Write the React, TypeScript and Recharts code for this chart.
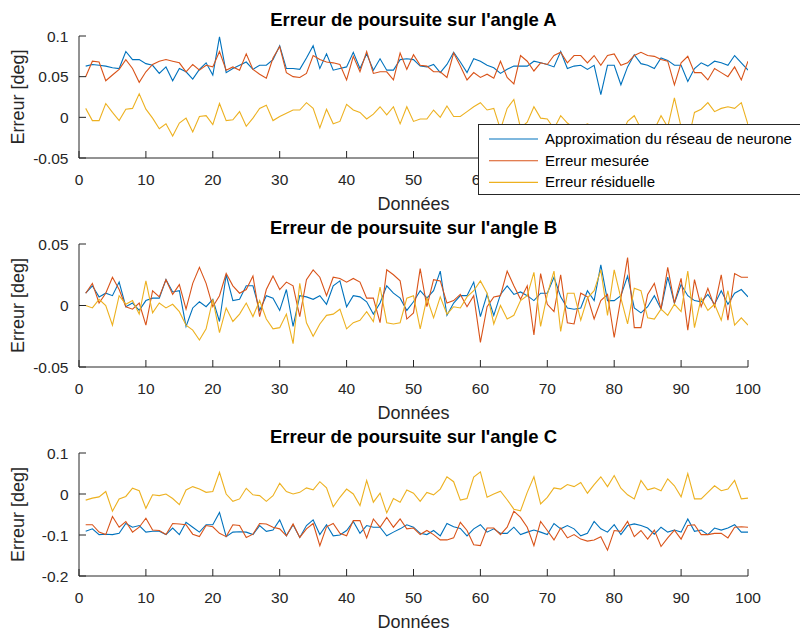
import React from "react";
import { LineChart, Line, XAxis, YAxis } from "recharts";

// sample index (Données)
const X_VALUES = Array.from({ length: 100 }, (_, i) => i + 1);
const X_TICKS = [0, 10, 20, 30, 40, 50, 60, 70, 80, 90, 100];

const SERIES_NAMES = [
  "Approximation du réseau de neurone",
  "Erreur mesurée",
  "Erreur résiduelle",
];

// angle A
const A_APPROX = [
  0.063, 0.065, 0.064, 0.063, 0.061, 0.06, 0.081, 0.071, 0.071, 0.066,
  0.064, 0.054, 0.062, 0.045, 0.06, 0.056, 0.047, 0.059, 0.067, 0.052,
  0.099, 0.055, 0.06, 0.064, 0.068, 0.059, 0.064, 0.064, 0.071, 0.088,
  0.06, 0.06, 0.059, 0.073, 0.088, 0.06, 0.078, 0.058, 0.06, 0.062,
  0.08, 0.06, 0.078, 0.058, 0.072, 0.058, 0.058, 0.071, 0.072, 0.071,
  0.063, 0.062, 0.065, 0.055, 0.065, 0.08, 0.068, 0.055, 0.072, 0.069,
  0.064, 0.061, 0.054, 0.059, 0.063, 0.063, 0.063, 0.069, 0.067, 0.065,
  0.062, 0.081, 0.06, 0.063, 0.064, 0.059, 0.064, 0.028, 0.064, 0.064,
  0.04, 0.062, 0.077, 0.066, 0.064, 0.06, 0.073, 0.07, 0.064, 0.064,
  0.044, 0.06, 0.067, 0.063, 0.069, 0.067, 0.064, 0.076, 0.067, 0.058,
];
const A_MEAS = [
  0.05, 0.069, 0.068, 0.045, 0.052, 0.059, 0.071, 0.06, 0.043, 0.056,
  0.065, 0.069, 0.071, 0.069, 0.067, 0.056, 0.065, 0.058, 0.064, 0.062,
  0.081, 0.058, 0.062, 0.058, 0.078, 0.059, 0.053, 0.048, 0.073, 0.087,
  0.055, 0.05, 0.049, 0.054, 0.076, 0.071, 0.068, 0.067, 0.065, 0.046,
  0.075, 0.056, 0.081, 0.054, 0.056, 0.056, 0.046, 0.079, 0.059, 0.077,
  0.064, 0.063, 0.056, 0.056, 0.049, 0.079, 0.063, 0.046, 0.055, 0.049,
  0.053, 0.048, 0.069, 0.049, 0.041, 0.076, 0.069, 0.057, 0.067, 0.065,
  0.076, 0.08, 0.067, 0.076, 0.076, 0.067, 0.076, 0.064, 0.076, 0.078,
  0.064, 0.067, 0.076, 0.08, 0.076, 0.075, 0.071, 0.069, 0.04, 0.067,
  0.075, 0.055, 0.055, 0.046, 0.06, 0.055, 0.05, 0.062, 0.046, 0.069,
];
const A_RES = [
  0.011, -0.004, -0.004, 0.017, 0.006, -0.004, 0.01, 0.011, 0.029, 0.01,
  -0.001, -0.014, -0.008, -0.023, -0.007, -0.001, -0.018, 0.001, 0.002, -0.009,
  0.017, -0.004, -0.003, 0.007, -0.011, -0.001, 0.011, 0.015, -0.004, 0.001,
  0.005, 0.009, 0.009, 0.018, 0.011, -0.013, 0.01, -0.008, -0.005, 0.016,
  0.009, 0.006, -0.002, 0.004, 0.013, 0.003, 0.013, -0.008, 0.013, -0.005,
  -0.002, -0.002, 0.009, 0.0, 0.014, 0.001, 0.001, 0.007, 0.013, 0.018,
  0.009, 0.011, -0.015, 0.011, 0.022, -0.013, -0.006, 0.013, -0.001, -0.002,
  -0.014, 0.002, -0.007, -0.013, -0.012, -0.008, -0.012, -0.036, -0.012, -0.014,
  -0.024, -0.005, 0.002, -0.014, -0.012, -0.015, 0.002, -0.012, 0.024, -0.012,
  -0.031, 0.006, 0.01, 0.018, 0.007, 0.011, 0.013, 0.011, 0.018, -0.009,
];

// angle B
const B_APPROX = [
  0.01, 0.016, 0.007, 0.01, 0.008, 0.019, -0.001, 0.002, -0.004, 0.004,
  0.006, 0.006, 0.021, 0.011, 0.012, -0.017, -0.002, 0.003, -0.001, 0.005,
  -0.013, 0.025, 0.004, 0.005, 0.016, 0.016, -0.004, 0.008, 0.006, -0.004,
  0.013, -0.017, 0.008, 0.007, 0.005, 0.008, 0.001, 0.016, 0.02, -0.001,
  0.008, 0.007, 0.003, -0.007, 0.002, 0.016, 0.01, 0.006, -0.004, 0.003,
  0.012, 0.006, 0.012, 0.028, -0.008, 0.002, 0.008, 0.008, 0.019, -0.009,
  0.009, -0.008, 0.009, 0.016, 0.009, 0.011, 0.008, 0.004, 0.01, 0.01,
  0.023, 0.007, -0.002, -0.003, -0.002, 0.012, 0.004, 0.033, 0.004, 0.004,
  0.008, 0.024, -0.002, -0.006, -0.001, 0.008, -0.003, 0.023, 0.002, 0.017,
  0.008, 0.004, 0.003, 0.009, 0.001, 0.012, 0.001, 0.01, 0.013, 0.007,
];
const B_MEAS = [
  0.01, 0.018, 0.002, 0.01, 0.023, 0.013, -0.001, -0.003, 0.002, -0.016,
  0.012, 0.007, 0.021, 0.009, 0.017, -0.003, 0.018, 0.031, 0.018, -0.001,
  0.008, 0.026, 0.016, 0.01, 0.013, 0.024, -0.009, 0.013, 0.024, 0.013,
  0.019, 0.016, -0.009, 0.021, 0.029, 0.023, 0.008, 0.023, 0.022, 0.019,
  0.022, 0.019, 0.006, 0.006, -0.014, 0.029, 0.025, 0.02, -0.011, -0.006,
  0.03, -0.001, 0.021, 0.02, 0.002, 0.004, 0.009, -0.001, 0.008, -0.03,
  -0.001, 0.007, 0.008, 0.028, 0.016, 0.005, 0.016, -0.024, 0.026, 0.001,
  -0.005, 0.025, -0.014, -0.015, 0.01, 0.007, -0.011, 0.004, 0.009, -0.026,
  0.006, 0.039, -0.018, -0.018, 0.009, 0.018, -0.003, 0.031, 0.002, 0.022,
  -0.02, 0.021, -0.001, 0.014, -0.001, 0.025, -0.012, 0.026, 0.023, 0.023,
];
const B_RES = [
  0.0, -0.002, 0.005, 0.0, -0.016, 0.008, 0.001, 0.004, -0.007, 0.02,
  -0.006, 0.002, -0.002, 0.001, -0.005, -0.016, -0.02, -0.028, -0.019, 0.005,
  -0.022, -0.002, -0.013, -0.007, 0.002, -0.009, 0.004, -0.011, -0.019, -0.018,
  -0.007, -0.031, 0.018, -0.014, -0.025, -0.015, -0.008, -0.007, -0.003, -0.019,
  -0.014, -0.012, -0.005, -0.013, 0.015, -0.014, -0.015, -0.014, 0.006, 0.008,
  -0.019, 0.006, -0.01, 0.007, -0.007, -0.001, -0.002, 0.007, 0.012, 0.02,
  0.01, -0.015, 0.0, -0.011, -0.008, 0.004, 0.008, 0.027, -0.017, 0.009,
  0.028, -0.021, 0.01, 0.01, -0.012, 0.006, 0.012, 0.029, -0.008, 0.029,
  0.006, -0.015, 0.014, 0.012, -0.01, -0.011, -0.003, -0.008, 0.001, -0.005,
  0.028, -0.018, 0.006, -0.004, 0.001, -0.012, 0.012, -0.016, -0.01, -0.016,
];

// angle C
const C_APPROX = [
  -0.091, -0.085, -0.099, -0.098, -0.099, -0.096, -0.072, -0.081, -0.077, -0.093,
  -0.091, -0.091, -0.099, -0.083, -0.099, -0.069, -0.081, -0.093, -0.075, -0.075,
  -0.045, -0.104, -0.093, -0.092, -0.093, -0.099, -0.077, -0.091, -0.088, -0.063,
  -0.102, -0.075, -0.106, -0.077, -0.063, -0.099, -0.075, -0.102, -0.1, -0.089,
  -0.067, -0.096, -0.077, -0.081, -0.081, -0.102, -0.093, -0.085, -0.075, -0.081,
  -0.096, -0.099, -0.089, -0.102, -0.072, -0.08, -0.084, -0.102, -0.085, -0.075,
  -0.093, -0.085, -0.096, -0.096, -0.081, -0.099, -0.093, -0.088, -0.093, -0.099,
  -0.072, -0.085, -0.077, -0.085, -0.102, -0.096, -0.067, -0.085, -0.093, -0.075,
  -0.099, -0.077, -0.073, -0.077, -0.083, -0.098, -0.081, -0.093, -0.088, -0.093,
  -0.061, -0.091, -0.088, -0.099, -0.083, -0.088, -0.083, -0.075, -0.093, -0.093,
];
const C_MEAS = [
  -0.075, -0.075, -0.093, -0.099, -0.055, -0.081, -0.067, -0.093, -0.081, -0.059,
  -0.088, -0.089, -0.099, -0.072, -0.073, -0.075, -0.098, -0.104, -0.077, -0.08,
  -0.096, -0.104, -0.075, -0.077, -0.106, -0.098, -0.072, -0.073, -0.081, -0.085,
  -0.102, -0.073, -0.106, -0.085, -0.072, -0.126, -0.08, -0.072, -0.096, -0.102,
  -0.065, -0.065, -0.107, -0.061, -0.081, -0.057, -0.081, -0.061, -0.085, -0.083,
  -0.099, -0.089, -0.099, -0.112, -0.112, -0.107, -0.069, -0.089, -0.124, -0.126,
  -0.083, -0.083, -0.099, -0.081, -0.042, -0.057, -0.081, -0.126, -0.067, -0.089,
  -0.112, -0.083, -0.107, -0.099, -0.11, -0.115, -0.112, -0.104, -0.137, -0.089,
  -0.091, -0.067, -0.104, -0.089, -0.11, -0.088, -0.128, -0.107, -0.088, -0.11,
  -0.077, -0.075, -0.099, -0.099, -0.096, -0.096, -0.107, -0.081, -0.08, -0.081,
];
const C_RES = [
  -0.015, -0.01, -0.007, 0.006, -0.042, -0.012, -0.006, 0.014, 0.008, -0.035,
  -0.002, -0.004, 0.0, -0.011, -0.026, 0.01, 0.018, 0.012, 0.004, 0.006,
  0.053, 0.0, -0.018, -0.012, 0.014, -0.002, -0.004, -0.018, -0.004, 0.026,
  0.006, 0.0, 0.004, 0.015, 0.01, 0.03, 0.015, -0.031, -0.008, 0.012,
  0.0, -0.028, 0.033, -0.02, 0.002, -0.046, -0.011, -0.02, 0.01, 0.002,
  -0.018, 0.004, -0.002, 0.012, 0.042, 0.03, -0.015, -0.011, 0.041, 0.054,
  -0.008, 0.0, 0.007, -0.014, -0.037, -0.041, 0.004, 0.042, -0.024, -0.008,
  0.015, 0.012, 0.023, 0.018, 0.028, 0.002, 0.023, 0.042, 0.018, 0.045,
  0.014, -0.002, -0.012, 0.033, 0.01, 0.015, 0.008, 0.037, 0.02, -0.007,
  0.05, -0.012, -0.012, 0.004, 0.02, 0.008, 0.012, 0.033, -0.012, -0.01,
];

const FONT = '"Liberation Sans", Arial, Helvetica, sans-serif';
const AXIS = "#262626";
const COLORS = ["#0072BD", "#D95319", "#EDB120"];

const PLOT_LEFT = 79;
const PLOT_RIGHT = 748;
const PLOT_CX = (PLOT_LEFT + PLOT_RIGHT) / 2;

type PanelProps = {
  top: number;
  height: number;
  marginTop: number;
  approx: number[];
  meas: number[];
  res: number[];
  domain: [number, number];
  yTicks: number[];
  coveredTicks?: number[];
};

function Panel({ top, height, marginTop, approx, meas, res, domain, yTicks, coveredTicks = [] }: PanelProps) {
  const data = X_VALUES.map((x, i) => ({ x, approx: approx[i], meas: meas[i], res: res[i] }));
  const tickStyle = { fill: AXIS, fontSize: 15.5, fontFamily: FONT };

  // x tick labels that sit under the legend box are not drawn
  const xTick = (props: any) => {
    const { x, y, payload } = props;
    if (coveredTicks.includes(payload.value)) return <g />;
    return (
      <text x={x} y={y} dy="0.71em" textAnchor="middle" fill={AXIS} fontSize={15.5} fontFamily={FONT}>
        {payload.value}
      </text>
    );
  };

  return (
    <div style={{ position: "absolute", left: 0, top }}>
      <LineChart
        width={800}
        height={height}
        data={data}
        margin={{ top: marginTop, right: 800 - PLOT_RIGHT, bottom: 22, left: 0 }}
      >
        <XAxis
          xAxisId="b"
          dataKey="x"
          type="number"
          domain={[0, 100]}
          ticks={X_TICKS}
          interval={0}
          height={30}
          tickSize={-7}
          tickMargin={23}
          stroke={AXIS}
          tick={xTick}
          allowDataOverflow
        />
        <XAxis
          xAxisId="t"
          orientation="top"
          dataKey="x"
          type="number"
          domain={[0, 100]}
          ticks={X_TICKS}
          interval={0}
          height={0}
          tickSize={-7}
          stroke={AXIS}
          tick={false}
          allowDataOverflow
        />
        <YAxis
          yAxisId="l"
          type="number"
          domain={domain}
          ticks={yTicks}
          interval={0}
          width={PLOT_LEFT}
          tickSize={-7}
          tickMargin={17.5}
          stroke={AXIS}
          tick={tickStyle}
          allowDataOverflow
        />
        <YAxis
          yAxisId="r"
          orientation="right"
          type="number"
          domain={domain}
          ticks={yTicks}
          interval={0}
          width={0}
          tickSize={-7}
          stroke={AXIS}
          tick={false}
          allowDataOverflow
        />
        <Line xAxisId="b" yAxisId="l" type="linear" dataKey="approx" stroke={COLORS[0]} strokeWidth={1.1} dot={false} isAnimationActive={false} />
        <Line xAxisId="b" yAxisId="l" type="linear" dataKey="meas" stroke={COLORS[1]} strokeWidth={1.1} dot={false} isAnimationActive={false} />
        <Line xAxisId="b" yAxisId="l" type="linear" dataKey="res" stroke={COLORS[2]} strokeWidth={1.1} dot={false} isAnimationActive={false} />
      </LineChart>
    </div>
  );
}

const PANELS = [
  { title: "Erreur de poursuite sur l'angle A", top: 0, height: 210, marginTop: 36, plotTop: 36, plotBottom: 158 },
  { title: "Erreur de poursuite sur l'angle B", top: 210, height: 209, marginTop: 34, plotTop: 244, plotBottom: 367 },
  { title: "Erreur de poursuite sur l'angle C", top: 419, height: 209, marginTop: 34, plotTop: 453, plotBottom: 576 },
];

export default function App() {
  return (
    <div
      style={{
        position: "absolute",
        left: 0,
        top: 0,
        width: 800,
        height: 631,
        overflow: "hidden",
        background: "#fff",
        fontFamily: FONT,
      }}
    >
      <Panel
        {...PANELS[0]}
        approx={A_APPROX}
        meas={A_MEAS}
        res={A_RES}
        domain={[-0.05, 0.1]}
        yTicks={[-0.05, 0, 0.05, 0.1]}
        coveredTicks={[70, 80, 90, 100]}
      />
      <Panel {...PANELS[1]} approx={B_APPROX} meas={B_MEAS} res={B_RES} domain={[-0.05, 0.05]} yTicks={[-0.05, 0, 0.05]} />
      <Panel {...PANELS[2]} approx={C_APPROX} meas={C_MEAS} res={C_RES} domain={[-0.2, 0.1]} yTicks={[-0.2, -0.1, 0, 0.1]} />

      <svg width={800} height={631} style={{ position: "absolute", left: 0, top: 0, pointerEvents: "none" }}>
        {PANELS.map((p) => (
          <g key={p.title} fontFamily={FONT}>
            <text x={PLOT_CX} y={p.plotTop - 10} textAnchor="middle" fontSize={18.5} fontWeight="bold" fill="#000">
              {p.title}
            </text>
            <text x={PLOT_CX} y={p.plotBottom + 52} textAnchor="middle" fontSize={18} fill={AXIS}>
              Données
            </text>
            <text
              transform={`translate(24, ${(p.plotTop + p.plotBottom) / 2}) rotate(-90)`}
              textAnchor="middle"
              fontSize={18}
              fill={AXIS}
            >
              Erreur [deg]
            </text>
          </g>
        ))}

        {/* legend of the first panel */}
        <g fontFamily={FONT}>
          <rect x={478.5} y={124.5} width={340} height={70} fill="#fff" stroke={AXIS} strokeWidth={1} />
          {SERIES_NAMES.map((name, i) => {
            const y = 139 + i * 21.7;
            return (
              <g key={name}>
                <line x1={489} x2={538} y1={y} y2={y} stroke={COLORS[i]} strokeWidth={1.1} />
                <text x={545} y={y + 5} fontSize={15} fill="#000">
                  {name}
                </text>
              </g>
            );
          })}
        </g>
      </svg>
    </div>
  );
}
